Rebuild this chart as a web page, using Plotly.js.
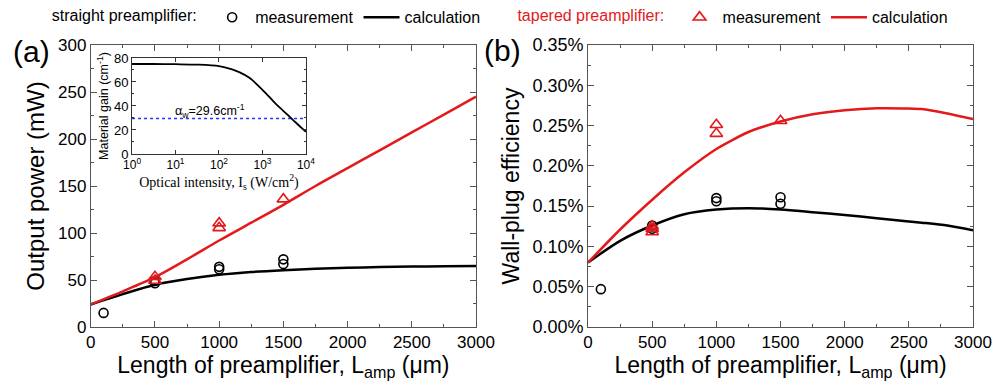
<!DOCTYPE html>
<html><head><meta charset="utf-8">
<script src="https://cdn.plot.ly/plotly-3.0.1.min.js"></script>
<style>html,body{margin:0;padding:0;background:#fff}#chart{width:995px;height:384px}</style>
</head><body><div id="chart"></div>
<script>
// ---- data ----
// Panel (a): output power (mW)
const measLenA_straight = [100, 500, 500, 1000, 1000, 1500, 1500];
const measPowA_straight = [15, 46.5, 49, 61.5, 64, 67, 72];
const measLenA_tapered  = [500, 500, 1000, 1000, 1500];
const measPowA_tapered  = [49.5, 53.5, 105.5, 110.5, 136];
const calcLen = [0, 250, 500, 750, 1000, 1250, 1500, 1750, 2000, 2250, 2500, 2750, 3000];
const calcPowA_straight = [24, 35, 45, 51, 55.5, 58.5, 60.5, 62, 63, 63.8, 64.3, 64.7, 65];
const calcPowA_tapered  = [24, 38, 53, 72, 92, 111, 130, 150, 169, 188, 207, 226, 245];
// Panel (b): wall-plug efficiency (%)
const measLenB_straight = [100, 500, 500, 1000, 1000, 1500, 1500];
const measEffB_straight = [0.047, 0.122, 0.126, 0.156, 0.160, 0.153, 0.161];
const measLenB_tapered  = [500, 500, 500, 1000, 1000, 1500];
const measEffB_tapered  = [0.118, 0.122, 0.125, 0.240, 0.251, 0.256];
const calcLenB = [0, 250, 500, 750, 1000, 1250, 1500, 1750, 2000, 2250, 2500, 2600, 2800, 3000];
const calcEffB_straight = [0.080, 0.107, 0.126, 0.140, 0.1458, 0.1475, 0.1458, 0.1425, 0.139, 0.135, 0.131, 0.1295, 0.126, 0.120];
const calcEffB_tapered  = [0.080, 0.121, 0.158, 0.192, 0.221, 0.242, 0.255, 0.264, 0.269, 0.2715, 0.2712, 0.2705, 0.265, 0.258];
// Inset: material gain vs optical intensity
const insetI    = [1, 3, 10, 30, 100, 200, 300, 500, 1000, 2000, 3000, 5000, 7000, 10000];
const insetGain = [75, 75, 74.8, 74.5, 73.3, 70.5, 68, 63.5, 53.5, 42, 36, 28.5, 23.5, 18.5];
const alphaW = 29.6;
const insetTickVals = [1, 10, 100, 1000, 10000];
const insetTickText = ['10<sup>0</sup>', '10<sup>1</sup>', '10<sup>2</sup>', '10<sup>3</sup>', '10<sup>4</sup>'];

const RED = '#e3191c', BLK = '#000000';
const FONT = 'Liberation Sans, Arial, sans-serif';
const SERIF = 'Liberation Serif, Times New Roman, serif';

const traces = [
  // legend 1 (straight)
  {x: measLenA_straight, y: measPowA_straight, xaxis:'x', yaxis:'y', mode:'markers', name:'measurement',
   marker:{symbol:'circle-open', size:9, color:BLK, line:{width:1.6}}, legend:'legend', legendrank:1},
  {x: calcLen, y: calcPowA_straight, xaxis:'x', yaxis:'y', mode:'lines', name:'calculation',
   line:{color:BLK, width:2.5, shape:'spline', smoothing:0.8}, legend:'legend', legendrank:2},
  // legend 2 (tapered)
  {x: calcLen, y: calcPowA_tapered, xaxis:'x', yaxis:'y', mode:'lines', name:'calculation',
   line:{color:RED, width:2.5, shape:'spline', smoothing:0.8}, legend:'legend2', legendrank:2},
  {x: measLenA_tapered, y: measPowA_tapered, xaxis:'x', yaxis:'y', mode:'markers', name:'measurement',
   marker:{symbol:'triangle-up-open', size:11, color:RED, line:{width:1.6}}, legend:'legend2', legendrank:1},
  // panel b
  {x: calcLenB, y: calcEffB_straight, xaxis:'x2', yaxis:'y2', mode:'lines', showlegend:false,
   line:{color:BLK, width:2.5, shape:'spline', smoothing:0.8}},
  {x: calcLenB, y: calcEffB_tapered, xaxis:'x2', yaxis:'y2', mode:'lines', showlegend:false,
   line:{color:RED, width:2.5, shape:'spline', smoothing:0.6}},
  {x: measLenB_straight, y: measEffB_straight, xaxis:'x2', yaxis:'y2', mode:'markers', showlegend:false,
   marker:{symbol:'circle-open', size:9, color:BLK, line:{width:1.6}}},
  {x: measLenB_tapered, y: measEffB_tapered, xaxis:'x2', yaxis:'y2', mode:'markers', showlegend:false,
   marker:{symbol:'triangle-up-open', size:11, color:RED, line:{width:1.6}}},
  // inset
  {x: [insetI[0], insetI[insetI.length-1]], y: [alphaW, alphaW], xaxis:'x3', yaxis:'y3', mode:'lines', showlegend:false,
   line:{color:'#2233ff', width:1.5, dash:'dot'}},
  {x: insetI, y: insetGain, xaxis:'x3', yaxis:'y3', mode:'lines', showlegend:false,
   line:{color:BLK, width:1.8, shape:'spline', smoothing:0.8}}
];

function mainX(domain){
  return {domain: domain, range:[0,3000], tickvals:[0,500,1000,1500,2000,2500,3000], showgrid:false, zeroline:false,
    showline:true, linecolor:'#555', linewidth:1, mirror:'allticks', ticks:'inside', ticklen:6, tickcolor:'#555',
    minor:{ticks:'inside', ticklen:3, dtick:250, tickcolor:'#555'},
    tickfont:{family:FONT, size:17, color:'#000'},
    title:{text:'Length of preamplifier, L<sub>amp</sub> (μm)', font:{family:FONT, size:23, color:'#000'}, standoff:4}};
}
const layout = {
  width:995, height:384, margin:{l:0,r:0,t:0,b:0}, paper_bgcolor:'#fff', plot_bgcolor:'rgba(0,0,0,0)',
  font:{family:FONT, color:'#000'},
  xaxis: mainX([0.0912, 0.4784]),
  yaxis: {domain:[0.1484, 0.8828], range:[0,300], dtick:50, showgrid:false, zeroline:false,
    showline:true, linecolor:'#555', linewidth:1, mirror:'allticks', ticks:'inside', ticklen:6, tickcolor:'#555',
    minor:{ticks:'inside', ticklen:3, dtick:25, tickcolor:'#555'},
    tickfont:{family:FONT, size:17, color:'#000'},
    title:{text:'Output power (mW)', font:{family:FONT, size:24, color:'#000'}, standoff:6}},
  xaxis2: Object.assign(mainX([0.5910, 0.9779]), {anchor:'y2'}),
  yaxis2: {domain:[0.1484, 0.8828], anchor:'x2', range:[0,0.35], dtick:0.05, tickformat:'.2f', ticksuffix:'%',
    showgrid:false, zeroline:false,
    showline:true, linecolor:'#555', linewidth:1, mirror:'allticks', ticks:'inside', ticklen:6, tickcolor:'#555',
    minor:{ticks:'inside', ticklen:3, dtick:0.025, tickcolor:'#555'},
    tickfont:{family:FONT, size:18, color:'#000'},
    title:{text:'Wall-plug efficiency', font:{family:FONT, size:23, color:'#000'}, standoff:6}},
  xaxis3: {domain:[0.1327, 0.3075], anchor:'y3', type:'log', range:[0,4], tickvals:insetTickVals, ticktext:insetTickText,
    showgrid:false, zeroline:false, showline:true, linecolor:'#333', linewidth:1, mirror:'allticks', ticks:'inside', ticklen:4, tickcolor:'#333',
    tickfont:{family:FONT, size:12, color:'#000'},
    title:{text:'Optical intensity, I<sub>s</sub> (W/cm<sup>2</sup>)', font:{family:SERIF, size:14, color:'#000'}, standoff:0}},
  yaxis3: {domain:[0.599, 0.849], anchor:'x3', range:[0,80], dtick:20, showgrid:false, zeroline:false,
    showline:true, linecolor:'#333', linewidth:1, mirror:'allticks', ticks:'inside', ticklen:4, tickcolor:'#333',
    minor:{ticks:'inside', ticklen:2, dtick:10, tickcolor:'#333'},
    tickfont:{family:FONT, size:13, color:'#000'},
    title:{text:'Material gain (cm<sup>-1</sup>)', font:{family:FONT, size:12.5, color:'#000'}, standoff:2}},
  legend: {orientation:'h', x:0.050, y:0.955, xanchor:'left', yanchor:'middle', bgcolor:'rgba(0,0,0,0)',
    font:{family:FONT, size:16, color:'#000'}, itemwidth:36,
    title:{text:'straight preamplifier: ', side:'left', font:{family:FONT, size:16, color:'#000'}}},
  legend2: {orientation:'h', x:0.518, y:0.955, xanchor:'left', yanchor:'middle', bgcolor:'rgba(0,0,0,0)',
    font:{family:FONT, size:16, color:'#000'}, itemwidth:36,
    title:{text:'tapered preamplifier: ', side:'left', font:{family:FONT, size:16, color:RED}}},
  annotations: [
    {xref:'paper', yref:'paper', x:31/995, y:1-52/384, xanchor:'center', yanchor:'middle', text:'(a)', showarrow:false,
     font:{family:FONT, size:30, color:'#000'}},
    {xref:'paper', yref:'paper', x:502/995, y:1-50/384, xanchor:'center', yanchor:'middle', text:'(b)', showarrow:false,
     font:{family:FONT, size:30, color:'#000'}},
    {xref:'x3', yref:'y3', x:1.8, y:36, xanchor:'center', yanchor:'middle', text:'α<sub>w</sub>=29.6cm<sup>-1</sup>', showarrow:false,
     font:{family:FONT, size:12.5, color:'#000'}}
  ]
};
Plotly.newPlot('chart', traces, layout, {displayModeBar:false, staticPlot:true});
</script></body></html>
